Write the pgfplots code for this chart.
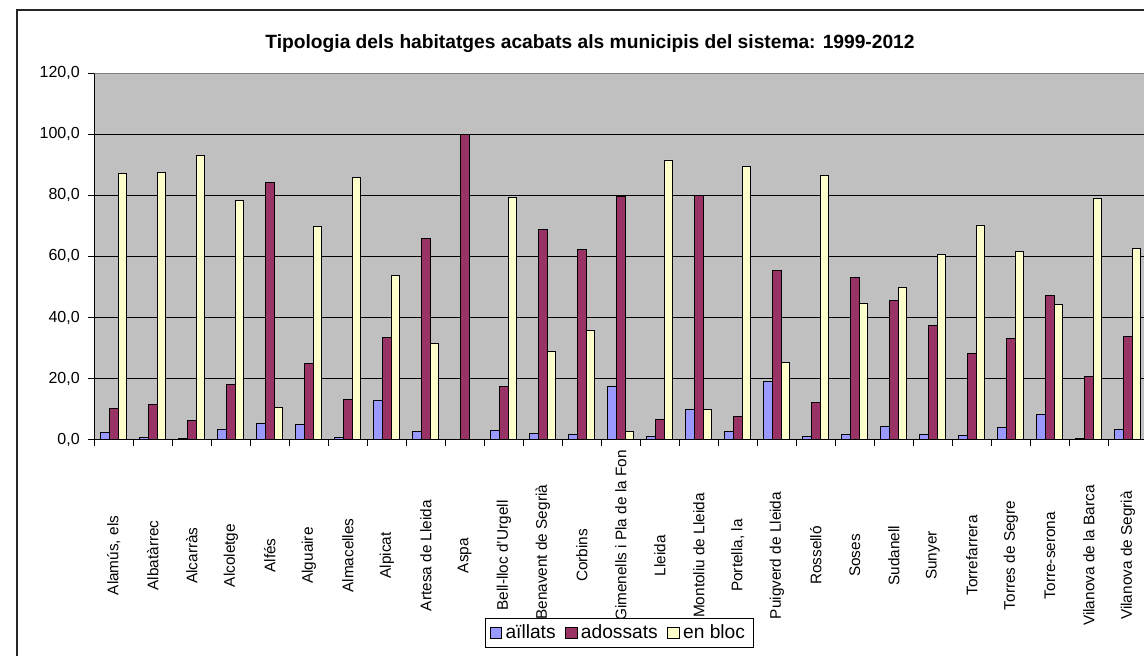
\documentclass[border=0pt]{standalone}
\usepackage{fontspec}
\setmainfont{Liberation Sans}
\usepackage{pgfplots}
\pgfplotsset{compat=1.18}
\definecolor{cA}{HTML}{9999FF}
\definecolor{cB}{HTML}{993366}
\definecolor{cC}{HTML}{FFFFCC}
\definecolor{plotbg}{HTML}{C0C0C0}
\begin{document}
\begin{tikzpicture}
\useasboundingbox (0,0) rectangle (715pt,-409.375pt);
\clip (0,0) rectangle (715pt,-409.375pt);
\fill[white] (0,0) rectangle (715pt,-409.375pt);
\draw[line width=0.9pt, black!85] (10.6pt,-6.25pt) rectangle (740pt,-430pt);
\node[font=\bfseries\fontsize{12}{14}\selectfont, anchor=base] at (368.75pt,-30pt) {Tipologia dels habitatges acabats als municipis del sistema: 1999-2012};
\begin{axis}[
  at={(58.94pt,-274.69pt)}, anchor=south west,
  scale only axis, width=658.125pt, height=228.875pt,
  xmin=-0.5, xmax=26.5, ymin=0, ymax=120,
  ybar=0pt, bar width=5.42pt,
  axis background/.style={fill=plotbg},
  axis lines*=left,
  axis line style={black, line width=0.6pt},
  ymajorgrids, grid style={black, line width=0.6pt},
  ytick={0,20,...,120},
  xtick={0,...,26},
  minor xtick={-0.5,0.5,...,26.5},
  tick align=outside,
  major tick length=3.75pt, minor tick length=3.75pt,
  major x tick style={draw=none},
  tick style={black, line width=0.6pt},
  xticklabels={{Alamús, els},Albatàrrec,Alcarràs,Alcoletge,Alfés,Alguaire,Almacelles,Alpicat,Artesa de Lleida,Aspa,Bell-lloc d'Urgell,\hspace*{4pt}Benavent de Segrià,Corbins,\hspace*{25pt}Gimenells i Pla de la Fon,Lleida,Montoliu de Lleida,{Portella, la},Puigverd de Lleida,Rosselló,Soses,Sudanell,Sunyer,Torrefarrera,Torres de Segre,Torre-serona,Vilanova de la Barca,Vilanova de Segrià},
  xticklabel style={yshift=-68.75pt, rotate=90, anchor=center, inner sep=0pt, font=\fontsize{9.6}{11.5}\selectfont},
  yticklabel style={anchor=east, inner sep=0pt, xshift=-5.2pt, font=\fontsize{10}{12}\selectfont},
  /pgf/number format/fixed, /pgf/number format/fixed zerofill,
  /pgf/number format/precision=1, /pgf/number format/use comma,
  /pgf/number format/assume math mode=true,
  legend style={at={(axis description cs:0.4983,-0.5284)}, anchor=center,
    legend columns=-1, draw=black, line width=0.6pt, fill=white,
    font=\fontsize{12}{14}\selectfont, inner xsep=3pt, inner ysep=2pt,
    /tikz/every even column/.append style={column sep=4pt}},
  legend image code/.code={\draw[#1, draw=black, line width=0.6pt] (0pt,-3.6pt) rectangle (7.2pt,3.6pt);},
]
\addplot[fill=cA, draw=black, line width=0.6pt] coordinates {
(0,2.4) (1,0.7) (2,0.3) (3,3.3) (4,5.1) (5,4.8) (6,0.7) (7,12.8) (8,2.5) (9,0) (10,3.1) (11,2.0) (12,1.7) (13,17.5) (14,1.1) (15,9.8) (16,2.5) (17,18.9) (18,1.1) (19,1.7) (20,4.4) (21,1.7) (22,1.4) (23,3.9) (24,8.2) (25,0.3) (26,3.3)};
\addplot[fill=cB, draw=black, line width=0.6pt] coordinates {
(0,10.2) (1,11.5) (2,6.2) (3,18.1) (4,84.2) (5,24.9) (6,13.1) (7,33.4) (8,65.8) (9,100) (10,17.5) (11,68.7) (12,62.2) (13,79.7) (14,6.6) (15,80.1) (16,7.7) (17,55.5) (18,12.1) (19,53.2) (20,45.6) (21,37.4) (22,28.2) (23,33.2) (24,47.2) (25,20.7) (26,33.9)};
\addplot[fill=cC, draw=black, line width=0.6pt] coordinates {
(0,87.2) (1,87.5) (2,93.2) (3,78.4) (4,10.4) (5,69.9) (6,86.0) (7,53.6) (8,31.5) (9,0) (10,79.2) (11,28.9) (12,35.6) (13,2.5) (14,91.6) (15,9.8) (16,89.4) (17,25.4) (18,86.4) (19,44.6) (20,49.9) (21,60.5) (22,70.3) (23,61.7) (24,44.4) (25,78.9) (26,62.6)};
\legend{aïllats,adossats,en bloc}
\draw[gray, line width=0.6pt] (rel axis cs:0,1) -- (rel axis cs:1,1);
\end{axis}
\end{tikzpicture}
\end{document}
